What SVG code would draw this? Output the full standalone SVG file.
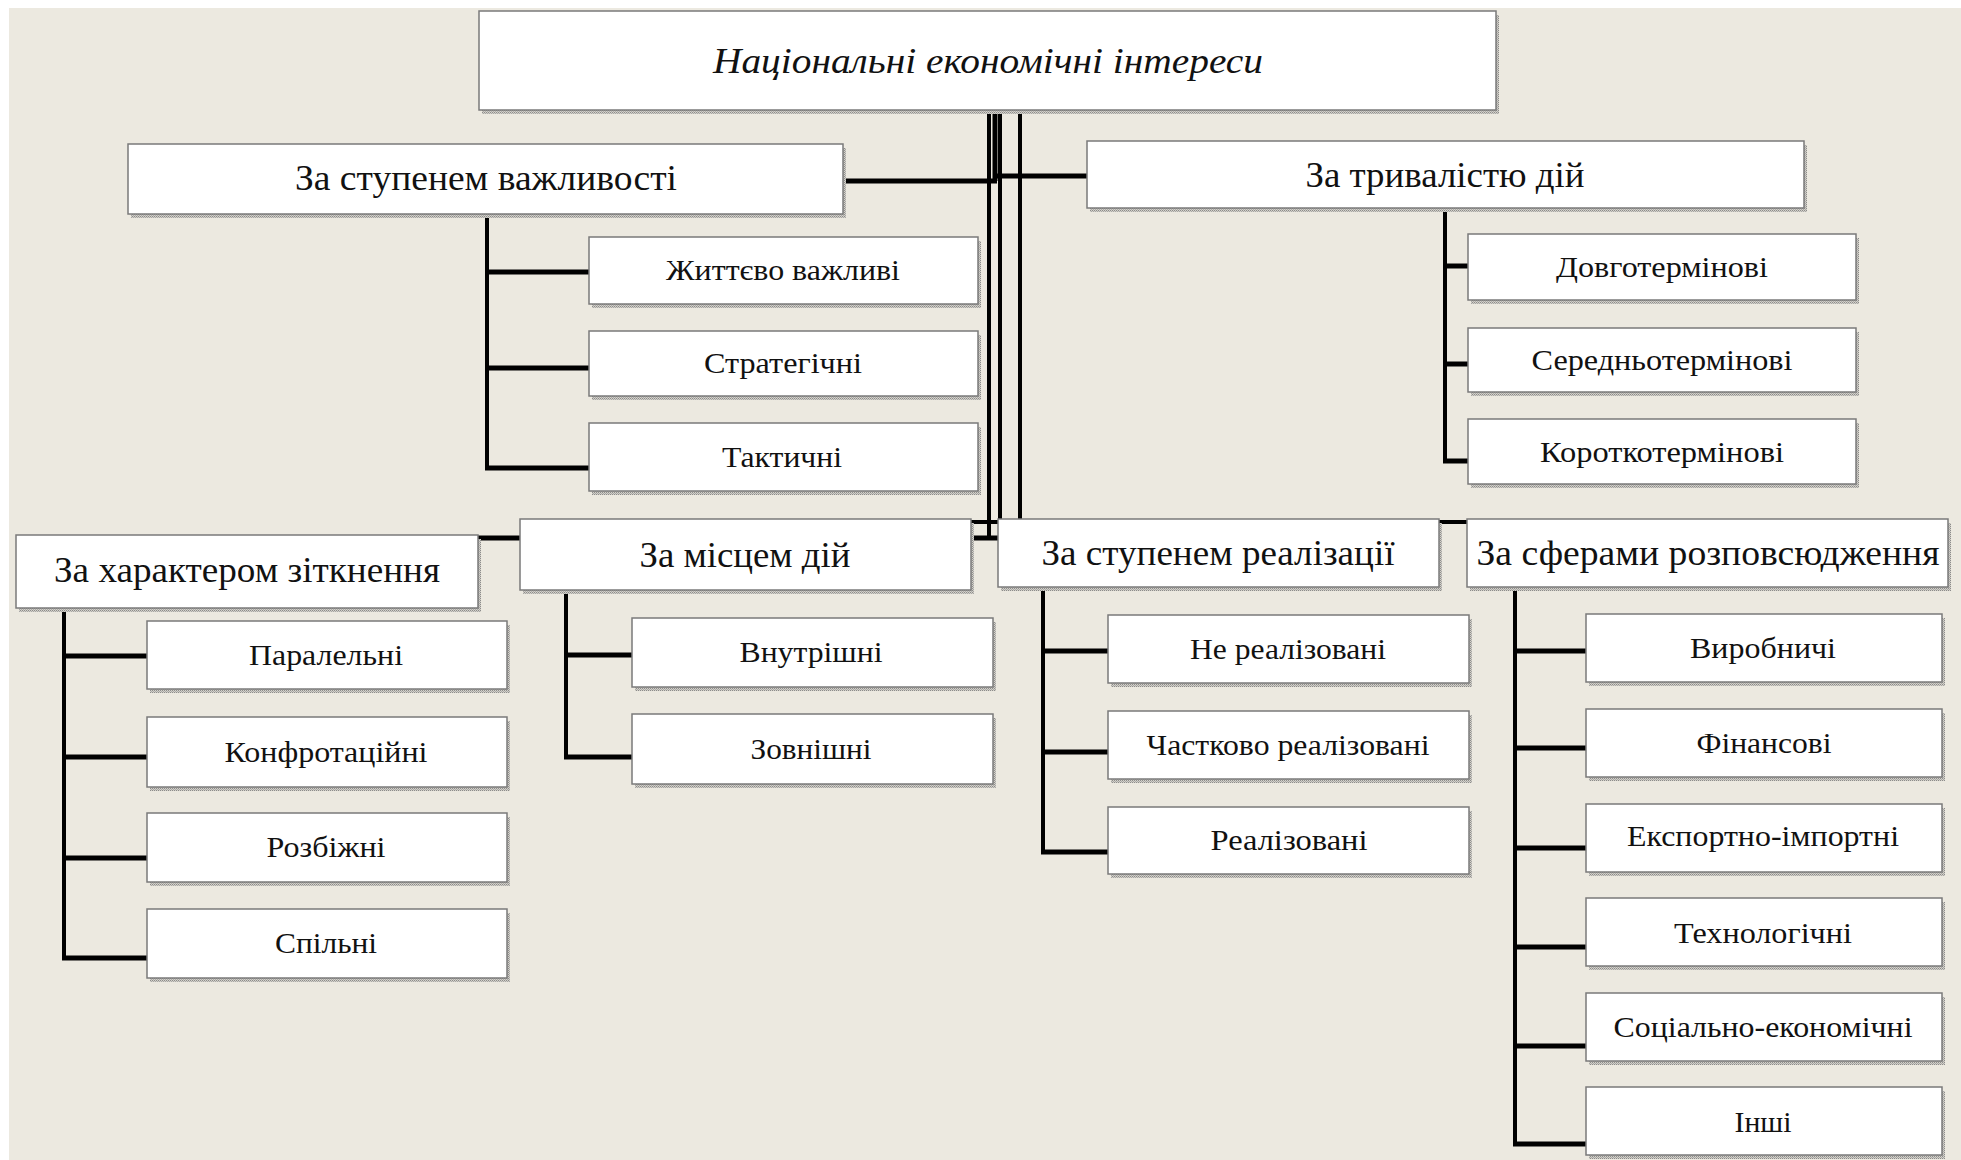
<svg xmlns="http://www.w3.org/2000/svg" width="1961" height="1160" viewBox="0 0 1961 1160">
<defs>
<pattern id="dots" width="2" height="2" patternUnits="userSpaceOnUse">
<rect width="2" height="2" fill="#d4d1c8"/>
<rect width="1" height="1" fill="#8c8c8c"/>
<rect x="1" y="1" width="1" height="1" fill="#a8a8a8"/>
</pattern>
</defs>
<style>
.bg{fill:#ECE9E0}
.sh{fill:url(#dots)}
.box{fill:#fff;stroke:#7a7a7a;stroke-width:1.5}
.v{stroke:#000;stroke-width:4;fill:none}
.h{stroke:#000;stroke-width:5;fill:none}
text{font-family:"Liberation Serif","Times New Roman",serif;fill:#111;text-anchor:middle}
.t0{font-size:36px;font-style:italic}
.t1{font-size:36px}
.t2{font-size:30px}
</style>
<rect width="1961" height="1160" fill="#fff"/>
<rect class="bg" x="9" y="8" width="1952" height="1152"/>

<g id="connectors">
<!-- trunk -->
<line class="v" x1="989" y1="110" x2="989" y2="540"/>
<line class="h" x1="995" y1="110" x2="995" y2="181"/>
<line class="v" x1="1000" y1="110" x2="1000" y2="523"/>
<line class="v" x1="1020" y1="110" x2="1020" y2="520"/>
<line class="h" x1="843" y1="181" x2="997" y2="181"/>
<line class="h" x1="993" y1="176" x2="1087" y2="176"/>
<line class="h" x1="478" y1="538" x2="1000" y2="538"/>
<line class="v" x1="970" y1="522" x2="1467" y2="522"/>
<!-- importance -->
<line class="v" x1="487" y1="214" x2="487" y2="470"/>
<line class="h" x1="485" y1="272" x2="589" y2="272"/>
<line class="h" x1="485" y1="368" x2="589" y2="368"/>
<line class="h" x1="485" y1="468" x2="589" y2="468"/>
<!-- duration -->
<line class="v" x1="1445" y1="208" x2="1445" y2="463"/>
<line class="h" x1="1443" y1="266" x2="1468" y2="266"/>
<line class="h" x1="1443" y1="364" x2="1468" y2="364"/>
<line class="h" x1="1443" y1="461" x2="1468" y2="461"/>
<!-- character -->
<line class="v" x1="64" y1="608" x2="64" y2="960"/>
<line class="h" x1="62" y1="656" x2="147" y2="656"/>
<line class="h" x1="62" y1="757" x2="147" y2="757"/>
<line class="h" x1="62" y1="858" x2="147" y2="858"/>
<line class="h" x1="62" y1="958" x2="147" y2="958"/>
<!-- place -->
<line class="v" x1="566" y1="590" x2="566" y2="759"/>
<line class="h" x1="564" y1="655" x2="632" y2="655"/>
<line class="h" x1="564" y1="757" x2="632" y2="757"/>
<!-- realization -->
<line class="v" x1="1043" y1="587" x2="1043" y2="854"/>
<line class="h" x1="1041" y1="651" x2="1108" y2="651"/>
<line class="h" x1="1041" y1="752" x2="1108" y2="752"/>
<line class="h" x1="1041" y1="852" x2="1108" y2="852"/>
<!-- spheres -->
<line class="v" x1="1515" y1="587" x2="1515" y2="1146"/>
<line class="h" x1="1513" y1="651" x2="1586" y2="651"/>
<line class="h" x1="1513" y1="748" x2="1586" y2="748"/>
<line class="h" x1="1513" y1="848" x2="1586" y2="848"/>
<line class="h" x1="1513" y1="947" x2="1586" y2="947"/>
<line class="h" x1="1513" y1="1046" x2="1586" y2="1046"/>
<line class="h" x1="1513" y1="1144" x2="1586" y2="1144"/>
</g>

<g id="root">
<rect class="sh" x="482" y="15" width="1017" height="99"/>
<rect class="box" x="479" y="11" width="1017" height="99"/>
<text class="t0" x="988" y="73" textLength="550" lengthAdjust="spacingAndGlyphs">Національні економічні інтереси</text>
</g>

<g id="n-importance">
<rect class="sh" x="131" y="148" width="715" height="70"/>
<rect class="box" x="128" y="144" width="715" height="70"/>
<text class="t1" x="486" y="190" textLength="382" lengthAdjust="spacingAndGlyphs">За ступенем важливості</text>
</g>
<g id="n-vital">
<rect class="sh" x="592" y="241" width="389" height="67"/>
<rect class="box" x="589" y="237" width="389" height="67"/>
<text class="t2" x="783" y="280" textLength="234" lengthAdjust="spacingAndGlyphs">Життєво важливі</text>
</g>
<g id="n-strategic">
<rect class="sh" x="592" y="335" width="389" height="65"/>
<rect class="box" x="589" y="331" width="389" height="65"/>
<text class="t2" x="783" y="373" textLength="158" lengthAdjust="spacingAndGlyphs">Стратегічні</text>
</g>
<g id="n-tactical">
<rect class="sh" x="592" y="427" width="389" height="68"/>
<rect class="box" x="589" y="423" width="389" height="68"/>
<text class="t2" x="782" y="467" textLength="120" lengthAdjust="spacingAndGlyphs">Тактичні</text>
</g>

<g id="n-duration">
<rect class="sh" x="1090" y="145" width="717" height="67"/>
<rect class="box" x="1087" y="141" width="717" height="67"/>
<text class="t1" x="1445" y="187" textLength="279" lengthAdjust="spacingAndGlyphs">За тривалістю дій</text>
</g>
<g id="n-long">
<rect class="sh" x="1471" y="238" width="388" height="66"/>
<rect class="box" x="1468" y="234" width="388" height="66"/>
<text class="t2" x="1662" y="277" textLength="212" lengthAdjust="spacingAndGlyphs">Довготермінові</text>
</g>
<g id="n-mid">
<rect class="sh" x="1471" y="332" width="388" height="64"/>
<rect class="box" x="1468" y="328" width="388" height="64"/>
<text class="t2" x="1662" y="370" textLength="261" lengthAdjust="spacingAndGlyphs">Середньотермінові</text>
</g>
<g id="n-short">
<rect class="sh" x="1471" y="423" width="388" height="65"/>
<rect class="box" x="1468" y="419" width="388" height="65"/>
<text class="t2" x="1662" y="462" textLength="244" lengthAdjust="spacingAndGlyphs">Короткотермінові</text>
</g>

<g id="n-character">
<rect class="sh" x="19" y="539" width="462" height="73"/>
<rect class="box" x="16" y="535" width="462" height="73"/>
<text class="t1" x="247" y="582" textLength="386" lengthAdjust="spacingAndGlyphs">За характером зіткнення</text>
</g>
<g id="n-parallel">
<rect class="sh" x="150" y="625" width="360" height="68"/>
<rect class="box" x="147" y="621" width="360" height="68"/>
<text class="t2" x="326" y="665" textLength="154" lengthAdjust="spacingAndGlyphs">Паралельні</text>
</g>
<g id="n-confront">
<rect class="sh" x="150" y="721" width="360" height="70"/>
<rect class="box" x="147" y="717" width="360" height="70"/>
<text class="t2" x="326" y="762" textLength="203" lengthAdjust="spacingAndGlyphs">Конфротаційні</text>
</g>
<g id="n-divergent">
<rect class="sh" x="150" y="817" width="360" height="69"/>
<rect class="box" x="147" y="813" width="360" height="69"/>
<text class="t2" x="326" y="857" textLength="119" lengthAdjust="spacingAndGlyphs">Розбіжні</text>
</g>
<g id="n-common">
<rect class="sh" x="150" y="913" width="360" height="69"/>
<rect class="box" x="147" y="909" width="360" height="69"/>
<text class="t2" x="326" y="953" textLength="102" lengthAdjust="spacingAndGlyphs">Спільні</text>
</g>

<g id="n-place">
<rect class="sh" x="523" y="523" width="451" height="71"/>
<rect class="box" x="520" y="519" width="451" height="71"/>
<text class="t1" x="745" y="567" textLength="211" lengthAdjust="spacingAndGlyphs">За місцем дій</text>
</g>
<g id="n-internal">
<rect class="sh" x="635" y="622" width="361" height="69"/>
<rect class="box" x="632" y="618" width="361" height="69"/>
<text class="t2" x="811" y="662" textLength="143" lengthAdjust="spacingAndGlyphs">Внутрішні</text>
</g>
<g id="n-external">
<rect class="sh" x="635" y="718" width="361" height="70"/>
<rect class="box" x="632" y="714" width="361" height="70"/>
<text class="t2" x="811" y="759" textLength="121" lengthAdjust="spacingAndGlyphs">Зовнішні</text>
</g>

<g id="n-realization">
<rect class="sh" x="1001" y="523" width="441" height="68"/>
<rect class="box" x="998" y="519" width="441" height="68"/>
<text class="t1" x="1218" y="565" textLength="353" lengthAdjust="spacingAndGlyphs">За ступенем реалізації</text>
</g>
<g id="n-notreal">
<rect class="sh" x="1111" y="619" width="361" height="68"/>
<rect class="box" x="1108" y="615" width="361" height="68"/>
<text class="t2" x="1288" y="659" textLength="196" lengthAdjust="spacingAndGlyphs">Не реалізовані</text>
</g>
<g id="n-partreal">
<rect class="sh" x="1111" y="715" width="361" height="68"/>
<rect class="box" x="1108" y="711" width="361" height="68"/>
<text class="t2" x="1288" y="755" textLength="283" lengthAdjust="spacingAndGlyphs">Частково реалізовані</text>
</g>
<g id="n-real">
<rect class="sh" x="1111" y="811" width="361" height="67"/>
<rect class="box" x="1108" y="807" width="361" height="67"/>
<text class="t2" x="1289" y="850" textLength="157" lengthAdjust="spacingAndGlyphs">Реалізовані</text>
</g>

<g id="n-spheres">
<rect class="sh" x="1470" y="523" width="481" height="68"/>
<rect class="box" x="1467" y="519" width="481" height="68"/>
<text class="t1" x="1708" y="565" textLength="463" lengthAdjust="spacingAndGlyphs">За сферами розповсюдження</text>
</g>
<g id="n-production">
<rect class="sh" x="1589" y="618" width="356" height="68"/>
<rect class="box" x="1586" y="614" width="356" height="68"/>
<text class="t2" x="1763" y="658" textLength="146" lengthAdjust="spacingAndGlyphs">Виробничі</text>
</g>
<g id="n-financial">
<rect class="sh" x="1589" y="713" width="356" height="68"/>
<rect class="box" x="1586" y="709" width="356" height="68"/>
<text class="t2" x="1764" y="753" textLength="135" lengthAdjust="spacingAndGlyphs">Фінансові</text>
</g>
<g id="n-export">
<rect class="sh" x="1589" y="808" width="356" height="68"/>
<rect class="box" x="1586" y="804" width="356" height="68"/>
<text class="t2" x="1763" y="846" textLength="272" lengthAdjust="spacingAndGlyphs">Експортно-імпортні</text>
</g>
<g id="n-tech">
<rect class="sh" x="1589" y="902" width="356" height="68"/>
<rect class="box" x="1586" y="898" width="356" height="68"/>
<text class="t2" x="1763" y="943" textLength="178" lengthAdjust="spacingAndGlyphs">Технологічні</text>
</g>
<g id="n-social">
<rect class="sh" x="1589" y="997" width="356" height="68"/>
<rect class="box" x="1586" y="993" width="356" height="68"/>
<text class="t2" x="1763" y="1037" textLength="299" lengthAdjust="spacingAndGlyphs">Соціально-економічні</text>
</g>
<g id="n-other">
<rect class="sh" x="1589" y="1091" width="356" height="68"/>
<rect class="box" x="1586" y="1087" width="356" height="68"/>
<text class="t2" x="1763" y="1132" textLength="57" lengthAdjust="spacingAndGlyphs">Інші</text>
</g>
</svg>
